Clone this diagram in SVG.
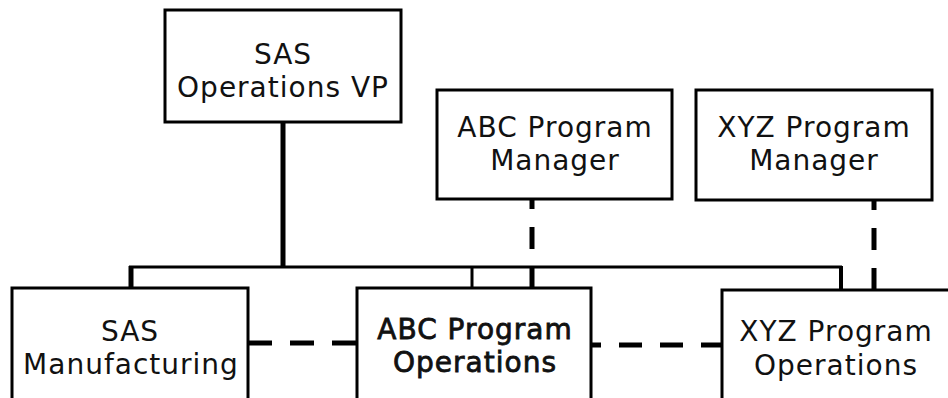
<svg xmlns="http://www.w3.org/2000/svg" width="948" height="398" viewBox="0 0 948 398">
  <style>
    .box { fill: #ffffff; stroke: #000000; stroke-width: 3; }
    .label { font-family: "DejaVu Sans", "Open Sans", sans-serif; font-size: 28px; letter-spacing: 1px; fill: #111111; text-anchor: middle; }
    .strong { stroke: #111111; stroke-width: 0.8px; }
    .solid { stroke: #000000; stroke-width: 3; fill: none; }
    .dash { stroke: #000000; stroke-width: 5; fill: none; }
  </style>
  <rect width="948" height="398" fill="#ffffff"/>

  <!-- reporting lines -->
  <g id="connectors">
    <line class="solid" x1="283" y1="122" x2="283" y2="268" style="stroke-width:5"/>
    <line class="solid" x1="129" y1="267" x2="842" y2="267"/>
    <line class="solid" x1="131" y1="266" x2="131" y2="288" style="stroke-width:5"/>
    <line class="solid" x1="472" y1="267" x2="472" y2="288"/>
    <line class="solid" x1="841" y1="266" x2="841" y2="290" style="stroke-width:4"/>
    <!-- dotted-line relationships -->
    <line class="dash" x1="532" y1="199" x2="532" y2="288" stroke-dasharray="22 18" stroke-dashoffset="12"/>
    <line class="dash" x1="874" y1="200" x2="874" y2="290" stroke-dasharray="22 18" stroke-dashoffset="12"/>
    <line class="dash" x1="248" y1="343" x2="357" y2="343" stroke-dasharray="24 18"/>
    <line class="dash" x1="591" y1="345" x2="722" y2="345" stroke-dasharray="23 18" stroke-dashoffset="13"/>
  </g>

  <g id="sas-operations-vp">
    <rect class="box" x="165" y="10" width="236" height="112"/>
    <text class="label" x="283" y="64"><tspan x="283">SAS</tspan><tspan x="283" dy="33">Operations VP</tspan></text>
  </g>

  <g id="abc-program-manager">
    <rect class="box" x="437" y="90" width="235" height="109"/>
    <text class="label" x="555" y="137"><tspan x="555">ABC Program</tspan><tspan x="555" dy="33">Manager</tspan></text>
  </g>

  <g id="xyz-program-manager">
    <rect class="box" x="696" y="90" width="236" height="110"/>
    <text class="label" x="814" y="137"><tspan x="814">XYZ Program</tspan><tspan x="814" dy="33">Manager</tspan></text>
  </g>

  <g id="sas-manufacturing">
    <rect class="box" x="12" y="288" width="236" height="112"/>
    <text class="label" x="130" y="341"><tspan x="130">SAS</tspan><tspan x="131" dy="33">Manufacturing</tspan></text>
  </g>

  <g id="abc-program-operations">
    <rect class="box" x="357" y="288" width="234" height="112"/>
    <text class="label strong" x="475" y="339"><tspan x="475">ABC Program</tspan><tspan x="475" dy="33">Operations</tspan></text>
  </g>

  <g id="xyz-program-operations">
    <rect class="box" x="722" y="290" width="236" height="110"/>
    <text class="label" x="836" y="341"><tspan x="836">XYZ Program</tspan><tspan x="836" dy="34">Operations</tspan></text>
  </g>
</svg>
